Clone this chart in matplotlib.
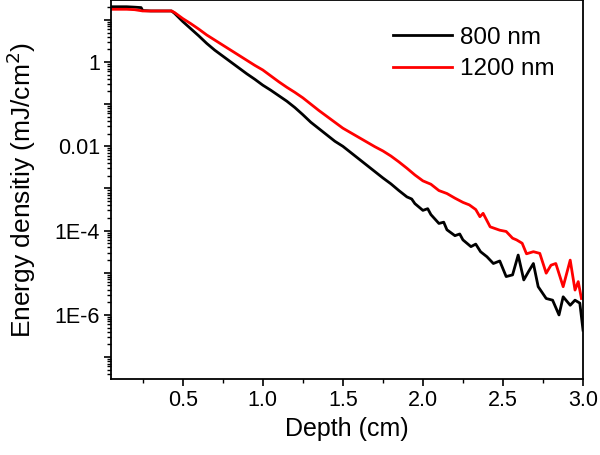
import math
import matplotlib
matplotlib.use("Agg")
import matplotlib.pyplot as plt
from matplotlib.ticker import FixedLocator, FuncFormatter, LogLocator, MultipleLocator, NullFormatter

plt.rcParams['font.family'] = ['Liberation Sans', 'DejaVu Sans']

# depth (cm) and log10 of energy density (mJ/cm^2)
depth_800 = [0.05, 0.10, 0.15, 0.20, 0.24, 0.25, 0.30, 0.35, 0.40, 0.43, 0.45, 0.50,
             0.55, 0.60, 0.65, 0.70, 0.75, 0.80, 0.85, 0.90, 0.95, 1.00, 1.05, 1.10,
             1.15, 1.20, 1.25, 1.30, 1.35, 1.40, 1.45, 1.50, 1.55, 1.60, 1.65, 1.70,
             1.75, 1.80, 1.85, 1.90, 1.93, 1.95, 2.00, 2.03, 2.05, 2.10, 2.13, 2.15,
             2.20, 2.23, 2.25, 2.30, 2.33, 2.36, 2.40, 2.44, 2.48, 2.52, 2.56, 2.595,
             2.63, 2.66, 2.69, 2.72, 2.77, 2.81, 2.85, 2.876, 2.92, 2.95, 2.98, 3.00]
log_800 = [1.31, 1.31, 1.31, 1.30, 1.29, 1.22, 1.21, 1.21, 1.21, 1.21, 1.15, 0.96,
           0.79, 0.62, 0.44, 0.28, 0.14, 0.00, -0.14, -0.28, -0.41, -0.55, -0.67, -0.80,
           -0.93, -1.08, -1.25, -1.43, -1.58, -1.73, -1.88, -2.00, -2.15, -2.30, -2.45, -2.60,
           -2.75, -2.89, -3.05, -3.20, -3.25, -3.36, -3.52, -3.48, -3.62, -3.83, -3.80, -3.98,
           -4.12, -4.08, -4.22, -4.38, -4.32, -4.50, -4.62, -4.78, -4.72, -5.09, -5.05, -4.58,
           -5.17, -4.97, -4.78, -5.33, -5.61, -5.65, -6.00, -5.57, -5.77, -5.65, -5.72, -6.36]

depth_1200 = [0.05, 0.10, 0.15, 0.20, 0.25, 0.30, 0.35, 0.40, 0.43, 0.45, 0.50, 0.55,
              0.60, 0.65, 0.70, 0.75, 0.80, 0.85, 0.90, 0.95, 1.00, 1.05, 1.10, 1.15,
              1.20, 1.25, 1.30, 1.35, 1.40, 1.45, 1.50, 1.55, 1.60, 1.65, 1.70, 1.75,
              1.80, 1.85, 1.90, 1.95, 2.00, 2.05, 2.10, 2.15, 2.20, 2.25, 2.29, 2.33,
              2.356, 2.376, 2.42, 2.48, 2.52, 2.56, 2.585, 2.62, 2.647, 2.69, 2.73, 2.77,
              2.80, 2.83, 2.876, 2.92, 2.95, 2.97, 2.99]
log_1200 = [1.25, 1.25, 1.25, 1.24, 1.21, 1.21, 1.21, 1.21, 1.21, 1.17, 1.03, 0.91,
            0.78, 0.64, 0.52, 0.40, 0.28, 0.16, 0.04, -0.08, -0.19, -0.33, -0.47, -0.60,
            -0.72, -0.85, -1.00, -1.15, -1.29, -1.43, -1.57, -1.68, -1.79, -1.90, -2.01, -2.11,
            -2.23, -2.37, -2.52, -2.68, -2.82, -2.90, -3.05, -3.12, -3.23, -3.33, -3.39, -3.50,
            -3.67, -3.59, -3.91, -3.99, -4.02, -4.18, -4.22, -4.30, -4.55, -4.50, -4.54, -5.01,
            -4.82, -4.78, -5.33, -4.70, -5.41, -5.21, -5.61]

series_names = ['800 nm', '1200 nm']
series_colors = ['black', 'red']
ytick_text = {0: '1', -2: '0.01', -4: '1E-4', -6: '1E-6'}

fig = plt.figure(figsize=(6.0, 4.55), dpi=100)
ax = fig.add_axes([0.185, 0.167, 0.7867, 0.833])

ax.plot(depth_800, [10 ** v for v in log_800], color=series_colors[0], lw=2.0, label=series_names[0])
ax.plot(depth_1200, [10 ** v for v in log_1200], color=series_colors[1], lw=2.0, label=series_names[1])

ax.set_yscale('log')
ax.set_xlim(0.052, 3.0)
ax.set_ylim(10 ** -7.52, 10 ** 1.47)

# major ticks every decade, labels on every other one
ax.yaxis.set_major_locator(FixedLocator([10.0 ** k for k in range(-7, 2)]))
ax.yaxis.set_major_formatter(FuncFormatter(
    lambda v, pos: ytick_text.get(int(round(math.log10(v))), '')))
ax.yaxis.set_minor_locator(LogLocator(base=10, subs=range(2, 10), numticks=20))
ax.yaxis.set_minor_formatter(NullFormatter())

ax.xaxis.set_major_locator(FixedLocator([0.5, 1.0, 1.5, 2.0, 2.5, 3.0]))
ax.xaxis.set_major_formatter(FuncFormatter(lambda v, pos: '%.1f' % v))
ax.xaxis.set_minor_locator(MultipleLocator(0.25))

ax.tick_params(which='major', direction='out', length=5, width=1.2, labelsize=15.5, pad=3)
ax.tick_params(which='minor', direction='out', length=3, width=1.0)
for s in ax.spines.values():
    s.set_linewidth(1.3)

ax.set_xlabel('Depth (cm)', fontsize=18, labelpad=4)
ax.set_ylabel('Energy densitiy (mJ/cm$^2$)', fontsize=19, labelpad=12)

ax.legend(loc='upper left', bbox_to_anchor=(0.597, 0.93), frameon=False, fontsize=17.5,
          handlelength=2.43, handletextpad=0.33, labelspacing=0.4, borderaxespad=0,
          borderpad=0)

fig.savefig('out.png', dpi=100)
